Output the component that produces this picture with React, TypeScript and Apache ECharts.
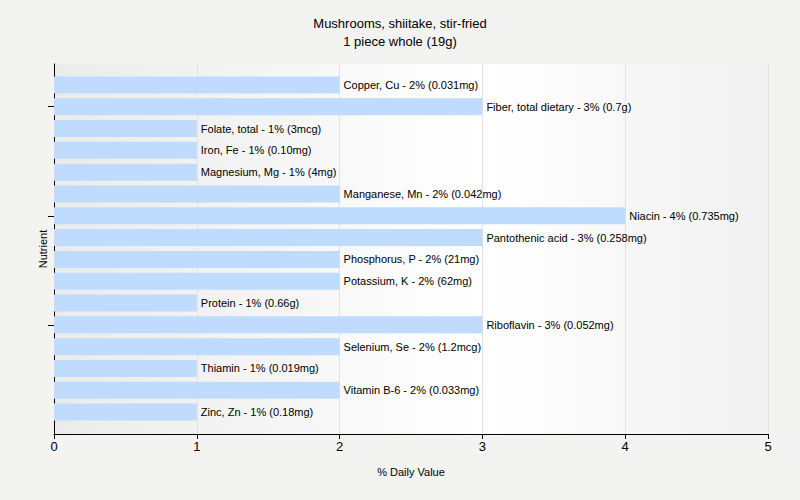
import React, { useEffect, useRef } from "react";
import * as echarts from "echarts";

const nutrients = [
  "Copper, Cu", "Fiber, total dietary", "Folate, total", "Iron, Fe", "Magnesium, Mg",
  "Manganese, Mn", "Niacin", "Pantothenic acid", "Phosphorus, P", "Potassium, K",
  "Protein", "Riboflavin", "Selenium, Se", "Thiamin", "Vitamin B-6", "Zinc, Zn",
];
const dailyValues = [2, 3, 1, 1, 1, 2, 4, 3, 2, 2, 1, 3, 2, 1, 2, 1];
const amounts = [
  "0.031mg", "0.7g", "3mcg", "0.10mg", "4mg", "0.042mg", "0.735mg", "0.258mg",
  "21mg", "62mg", "0.66g", "0.052mg", "1.2mcg", "0.019mg", "0.033mg", "0.18mg",
];
const xTicks = [0, 1, 2, 3, 4, 5];

const FONT = "Liberation Sans";

export default function App() {
  const ref = useRef<HTMLDivElement>(null);
  useEffect(() => {
    const chart = echarts.init(ref.current!, null, { renderer: "svg" });
    const xMin = xTicks[0];
    const xMax = xTicks[xTicks.length - 1];
    chart.setOption({
      animation: false,
      backgroundColor: "#f3f3f2",
      title: {
        text: "Mushrooms, shiitake, stir-fried\n1 piece whole (19g)",
        left: "center",
        top: 9,
        textStyle: { fontFamily: FONT, fontSize: 13, fontWeight: "normal", color: "#000", lineHeight: 18 },
      },
      grid: [
        {
          left: 54, right: 32, top: 64, bottom: 66,
          show: true,
          borderWidth: 0,
          backgroundColor: new echarts.graphic.LinearGradient(0, 0, 1, 0, [
            { offset: 0, color: "#ebebeb" },
            { offset: 0.6, color: "#ffffff" },
            { offset: 1, color: "#f1f1f1" },
          ]),
        },
        { left: 54, right: 32, top: 74, bottom: 77 },
      ],
      xAxis: [
        {
          gridIndex: 0,
          type: "value",
          min: xMin,
          max: xMax,
          interval: 1,
          name: "% Daily Value",
          nameLocation: "middle",
          nameGap: 32,
          nameTextStyle: { fontFamily: FONT, fontSize: 11, color: "#000" },
          axisLine: { show: true, lineStyle: { color: "#000" } },
          axisTick: { show: true, length: 5, lineStyle: { color: "#000" } },
          axisLabel: { fontFamily: FONT, fontSize: 13, color: "#000", margin: 6 },
          splitLine: { show: true, lineStyle: { color: "#e2e2e2" } },
        },
        {
          gridIndex: 1,
          type: "value",
          min: xMin,
          max: xMax,
          interval: 1,
          show: false,
        },
      ],
      yAxis: [
        {
          gridIndex: 0,
          type: "value",
          min: 0,
          max: 1,
          name: "Nutrient",
          nameLocation: "middle",
          nameGap: 6,
          nameRotate: 90,
          nameTextStyle: { fontFamily: FONT, fontSize: 11, color: "#000" },
          axisLine: { show: true, lineStyle: { color: "#000" } },
          axisTick: { show: false },
          axisLabel: { show: false },
          splitLine: { show: false },
        },
        {
          gridIndex: 1,
          type: "category",
          inverse: true,
          data: nutrients,
          axisLine: { show: false },
          axisTick: {
            show: true,
            alignWithLabel: true,
            length: 6,
            interval: (i: number) => i % 5 === 1,
            lineStyle: { color: "#000" },
          },
          axisLabel: { show: false },
          splitLine: { show: false },
        },
      ],
      series: [
        {
          type: "bar",
          xAxisIndex: 1,
          yAxisIndex: 1,
          data: dailyValues,
          barCategoryGap: "22%",
          itemStyle: { color: "#bfdbfd" },
          label: {
            show: true,
            position: "right",
            distance: 4,
            fontFamily: FONT,
            fontSize: 11,
            color: "#000",
            formatter: (p: any) => `${nutrients[p.dataIndex]} - ${dailyValues[p.dataIndex]}% (${amounts[p.dataIndex]})`,
          },
        },
      ],
    });
    return () => chart.dispose();
  }, []);
  return <div ref={ref} style={{ width: 800, height: 500, position: "absolute", left: 0, top: 0 }} />;
}
